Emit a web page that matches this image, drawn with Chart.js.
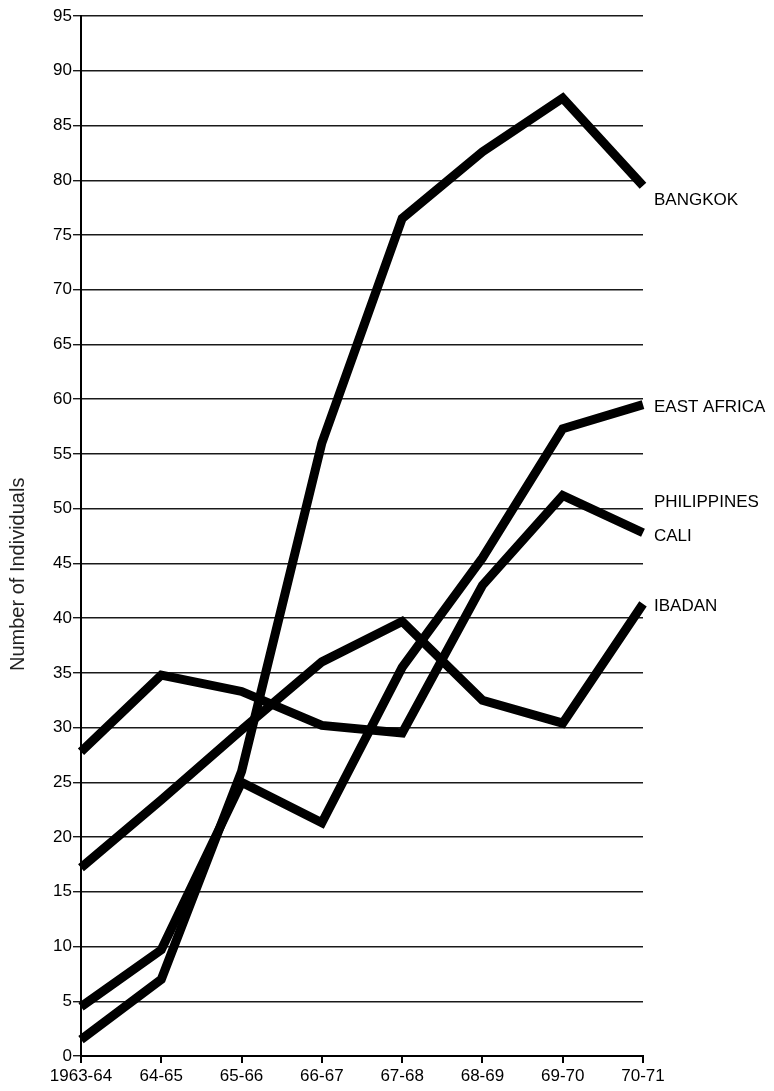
<!DOCTYPE html>
<html>
<head>
<meta charset="utf-8">
<title>Number of Individuals by Centre</title>
<script src="https://cdn.jsdelivr.net/npm/chart.js@4.4.1/dist/chart.umd.min.js"></script>
<style>
  html, body { margin: 0; padding: 0; background: #fff; }
  #wrap { width: 774px; height: 1091px; position: relative; }
</style>
</head>
<body>
<div id="wrap"><canvas id="trendChart"></canvas></div>
<script>
/* ==========================================
   Staff trend chart, 1963-64 to 70-71
========================================== */

const years = ["1963-64", "64-65", "65-66", "66-67", "67-68", "68-69", "69-70", "70-71"];

const bangkok = [1.5, 7, 26, 56, 76.5, 82.6, 87.5, 79.5];
const eastAfrica = [4.5, 9.7, 25, 21.3, 35.5, 45.5, 57.3, 59.5];
const cali = [27.8, 34.8, 33.3, 30.2, 29.5, 43, 51.2, 47.8];
const ibadan = [17.2, 23.4, 29.8, 36, 39.7, 32.5, 30.4, 41.3];

const yTicks = [0, 5, 10, 15, 20, 25, 30, 35, 40, 45, 50, 55, 60, 65, 70, 75, 80, 85, 90, 95];

// names written at the right end of the lines, with the value they sit at
const endNames = ["BANGKOK", "EAST AFRICA", "PHILIPPINES", "CALI", "IBADAN"];
const endValues = [78.2, 59.3, 50.6, 47.5, 41.1];

const Y_TITLE = "Number of Individuals";
const Y_TITLE_AT = 44; // value the axis title is centred on

const INK = "#000";
const FONT = "'Liberation Sans', Arial, Helvetica, sans-serif";

function lineSet(label, data) {
  return {
    label,
    data,
    borderColor: INK,
    borderWidth: 9,
    borderCapStyle: "butt",
    borderJoinStyle: "miter",
    pointRadius: 0,
    tension: 0,
    fill: false,
  };
}

const endNamesPlugin = {
  id: "endNames",
  afterDatasetsDraw(chart) {
    const { ctx, chartArea, scales } = chart;
    ctx.save();
    ctx.fillStyle = INK;
    ctx.font = `17px ${FONT}`;
    ctx.textAlign = "left";
    ctx.textBaseline = "middle";
    endNames.forEach((name, i) => {
      ctx.fillText(name, chartArea.right + 11, scales.y.getPixelForValue(endValues[i]));
    });

    // axis title sits a little below the middle in the original
    ctx.translate(scales.y.left + 18, scales.y.getPixelForValue(Y_TITLE_AT));
    ctx.rotate(-Math.PI / 2);
    ctx.textAlign = "center";
    ctx.fillStyle = "#222";
    ctx.font = `20px ${FONT}`;
    ctx.fillText(Y_TITLE, 0, 0);
    ctx.restore();
  },
};

function renderChart() {
  const ctx = document.getElementById("trendChart").getContext("2d");

  new Chart(ctx, {
    type: "line",
    data: {
      labels: years,
      datasets: [
        lineSet("Bangkok", bangkok),
        lineSet("East Africa", eastAfrica),
        lineSet("Cali", cali),
        lineSet("Ibadan", ibadan),
      ],
    },
    options: {
      responsive: true,
      maintainAspectRatio: false,
      animation: false,
      layout: { padding: { top: 16, right: 131, bottom: 0, left: 0 } },
      plugins: { legend: { display: false }, tooltip: { enabled: false } },
      scales: {
        x: {
          offset: false,
          grid: { drawOnChartArea: false, drawTicks: true, tickLength: 7, color: INK, lineWidth: 2 },
          border: { display: true, color: INK, width: 2 },
          ticks: { color: INK, font: { family: FONT, size: 17 }, padding: 3, maxRotation: 0, autoSkip: false },
          afterFit: (scale) => { scale.height = 35; },
        },
        y: {
          min: 0,
          max: 95,
          afterBuildTicks: (scale) => { scale.ticks = yTicks.map((v) => ({ value: v })); },
          grid: { color: "#1a1a1a", lineWidth: 1.4, tickLength: 8 },
          border: { display: true, color: INK, width: 2 },
          ticks: { color: INK, font: { family: FONT, size: 17 }, padding: 1 },
          afterFit: (scale) => { scale.width = 81; },
        },
      },
    },
    plugins: [endNamesPlugin],
  });
}

renderChart();
</script>
</body>
</html>
